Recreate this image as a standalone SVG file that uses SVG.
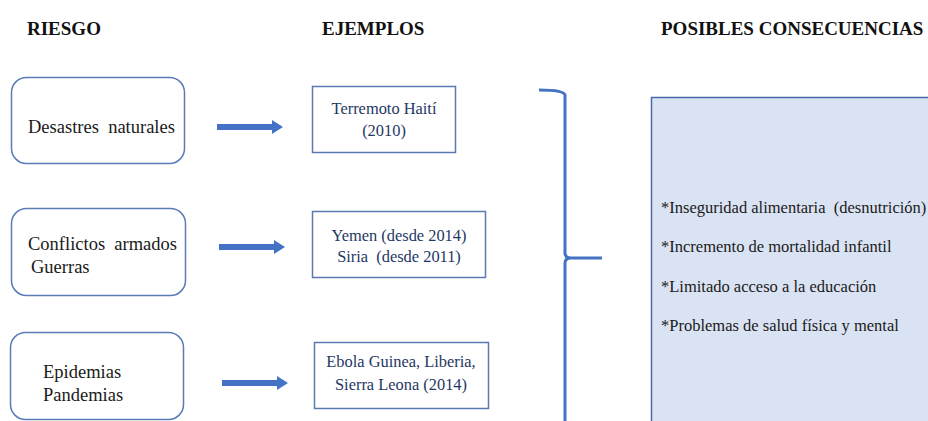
<svg xmlns="http://www.w3.org/2000/svg" width="928" height="421" viewBox="0 0 928 421">
<style>
.title{font-family:"Liberation Serif","Times New Roman","DejaVu Serif",serif;font-weight:bold;font-size:19px;fill:#111;}
.risk rect{fill:#fff;stroke:#5b7bb8;stroke-width:1.5;}
.risk text{font-family:"Liberation Serif","Times New Roman","DejaVu Serif",serif;font-size:18.5px;fill:#1a1a1a;}
.ex rect{fill:#fff;stroke:#5b78b0;stroke-width:1.5;}
.ex text{font-family:"Liberation Serif","Times New Roman","DejaVu Serif",serif;font-size:16.4px;fill:#1f3864;text-anchor:middle;}
.cons rect{fill:#dae3f3;stroke:#4a69a6;stroke-width:1.5;}
.cons text{font-family:"Liberation Serif","Times New Roman","DejaVu Serif",serif;font-size:16.5px;fill:#1a1a1a;}
.arrow{stroke:#4472c4;stroke-width:6;fill:none;}
.brace{stroke:#4472c4;stroke-width:3;fill:none;}
</style>
<defs>
<marker id="ah" markerWidth="11" markerHeight="14" refX="0" refY="7" orient="auto" markerUnits="userSpaceOnUse">
<path d="M0,0 L11,7 L0,14 Z" fill="#4472c4"/>
</marker>
</defs>
<rect width="928" height="421" fill="#fff"/>
<text class="title" x="27" y="35">RIESGO</text>
<text class="title" x="322" y="35">EJEMPLOS</text>
<text class="title" x="661" y="35">POSIBLES CONSECUENCIAS</text>

<g id="risk1" class="risk">
<rect x="11.5" y="77.5" width="173" height="86" rx="15"/>
<text x="28" y="133" xml:space="preserve">Desastres  naturales</text>
</g>
<g id="risk2" class="risk">
<rect x="11.5" y="208.5" width="174" height="87" rx="15"/>
<text x="28" y="250" xml:space="preserve">Conflictos  armados</text>
<text x="31" y="273">Guerras</text>
</g>
<g id="risk3" class="risk">
<rect x="10.5" y="332.5" width="173" height="87" rx="15"/>
<text x="43" y="378">Epidemias</text>
<text x="43" y="401">Pandemias</text>
</g>

<g id="ex1" class="ex">
<rect x="312.5" y="86.5" width="143" height="66"/>
<text x="384" y="114">Terremoto Haití</text>
<text x="384" y="136">(2010)</text>
</g>
<g id="ex2" class="ex">
<rect x="312.5" y="211.5" width="173" height="66"/>
<text x="399" y="241">Yemen (desde 2014)</text>
<text x="399" y="262" xml:space="preserve">Siria  (desde 2011)</text>
</g>
<g id="ex3" class="ex">
<rect x="314.5" y="342.5" width="174" height="66"/>
<text x="401" y="367">Ebola Guinea, Liberia,</text>
<text x="401" y="390">Sierra Leona (2014)</text>
</g>

<g id="cons" class="cons">
<rect x="651.5" y="97.5" width="290" height="340"/>
<text x="661" y="213" xml:space="preserve">*Inseguridad alimentaria  (desnutrición)</text>
<text x="661" y="252">*Incremento de mortalidad infantil</text>
<text x="661" y="292">*Limitado acceso a la educación</text>
<text x="661" y="331">*Problemas de salud física y mental</text>
</g>

<g id="connectors">
<line class="arrow" x1="217" y1="127" x2="272" y2="127" marker-end="url(#ah)"/>
<line class="arrow" x1="219" y1="247" x2="274" y2="247" marker-end="url(#ah)"/>
<line class="arrow" x1="222" y1="383" x2="277" y2="383" marker-end="url(#ah)"/>
<path class="brace" d="M539,90 Q564,90 565,95 L565,253 Q565,258 571,258 L602,258 M571,258 Q565,258 565,263 L565,425"/>
</g>
</svg>
